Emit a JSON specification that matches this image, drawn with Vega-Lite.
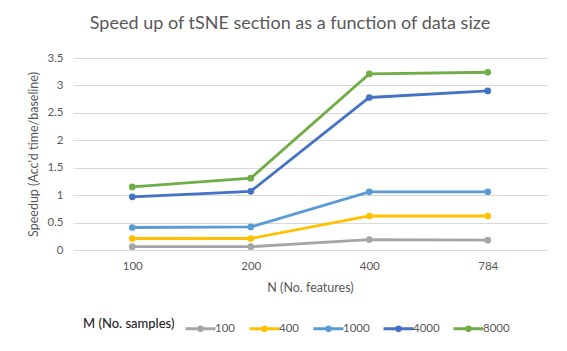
{
  "$schema": "https://vega.github.io/schema/vega-lite/v6.json",
  "width": 474,
  "height": 192,
  "autosize": "none",
  "padding": {"left": 73, "top": 58, "right": 20, "bottom": 101},
  "background": "white",
  "title": {
    "text": "Speed up of tSNE section as a function of data size",
    "font": "Lato",
    "fontSize": 18,
    "fontWeight": "normal",
    "color": "#595959",
    "anchor": "middle",
    "offset": 19,
    "dx": -20
  },
  "data": {
    "values": [
      {"N": "100", "M": "100", "speedup": 0.06},
      {"N": "200", "M": "100", "speedup": 0.06},
      {"N": "400", "M": "100", "speedup": 0.19},
      {"N": "784", "M": "100", "speedup": 0.18},
      {"N": "100", "M": "400", "speedup": 0.21},
      {"N": "200", "M": "400", "speedup": 0.21},
      {"N": "400", "M": "400", "speedup": 0.62},
      {"N": "784", "M": "400", "speedup": 0.62},
      {"N": "100", "M": "1000", "speedup": 0.41},
      {"N": "200", "M": "1000", "speedup": 0.42},
      {"N": "400", "M": "1000", "speedup": 1.06},
      {"N": "784", "M": "1000", "speedup": 1.06},
      {"N": "100", "M": "4000", "speedup": 0.97},
      {"N": "200", "M": "4000", "speedup": 1.07},
      {"N": "400", "M": "4000", "speedup": 2.78},
      {"N": "784", "M": "4000", "speedup": 2.9},
      {"N": "100", "M": "8000", "speedup": 1.15},
      {"N": "200", "M": "8000", "speedup": 1.31},
      {"N": "400", "M": "8000", "speedup": 3.21},
      {"N": "784", "M": "8000", "speedup": 3.24}
    ]
  },
  "mark": {
    "type": "line",
    "strokeWidth": 2.8,
    "point": {"filled": true, "size": 45, "opacity": 1}
  },
  "encoding": {
    "x": {
      "field": "N",
      "type": "ordinal",
      "sort": ["100", "200", "400", "784"],
      "scale": {"type": "point", "padding": 0.5},
      "axis": {
        "title": "N (No. features)",
        "labelAngle": 0,
        "labelPadding": 10,
        "titlePadding": 10,
        "ticks": false,
        "domainColor": "#d9d9d9",
        "domainWidth": 1
      }
    },
    "y": {
      "field": "speedup",
      "type": "quantitative",
      "scale": {"domain": [0, 3.5], "nice": false},
      "axis": {
        "title": "Speedup (Acc'd time/baseline)",
        "values": [0, 0.5, 1, 1.5, 2, 2.5, 3, 3.5],
        "format": ".1~f",
        "labelPadding": 10,
        "titlePadding": 6,
        "ticks": false,
        "domain": false,
        "grid": true,
        "gridColor": "#d9d9d9"
      }
    },
    "color": {
      "field": "M",
      "type": "nominal",
      "scale": {
        "domain": ["100", "400", "1000", "4000", "8000"],
        "range": ["#A5A5A5", "#FFC000", "#5B9BD5", "#4472C4", "#70AD47"]
      },
      "legend": {
        "title": "M (No. samples)",
        "orient": "none",
        "legendX": 10,
        "legendY": 254,
        "direction": "horizontal",
        "titleOrient": "left",
        "titlePadding": 9,
        "columnPadding": 7,
        "labelOffset": -2,
        "symbolType": "M-1,0H1M0.12,0A0.12,0.12,0,1,1,-0.12,0A0.12,0.12,0,1,1,0.12,0",
        "symbolSize": 900,
        "symbolStrokeWidth": 3,
        "encode": {
          "symbols": {
            "update": {
              "fill": {"scale": "color", "field": "value"},
              "stroke": {"scale": "color", "field": "value"},
              "size": {"value": 900},
              "opacity": {"value": 1}
            }
          }
        }
      }
    }
  },
  "config": {
    "view": {"stroke": null},
    "font": "Lato",
    "axis": {
      "labelFont": "Lato",
      "labelFontSize": 11.5,
      "labelColor": "#595959",
      "titleFont": "Lato",
      "titleFontSize": 12.5,
      "titleFontWeight": "normal",
      "titleColor": "#595959"
    },
    "legend": {
      "labelFont": "Lato",
      "labelFontSize": 11.5,
      "labelColor": "#595959",
      "titleFont": "Lato",
      "titleFontSize": 13,
      "titleFontWeight": 500,
      "titleColor": "#262626"
    }
  }
}
